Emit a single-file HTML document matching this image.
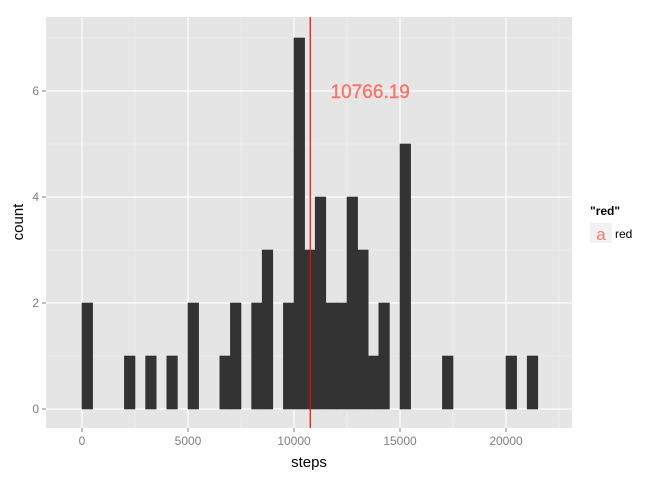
<!DOCTYPE html>
<html><head><meta charset="utf-8"><style>
body{margin:0;background:#fff;font-family:"Liberation Sans",Arial,sans-serif}
</style></head><body>
<svg id="chart" width="672" height="480" xmlns="http://www.w3.org/2000/svg" font-family="Liberation Sans, Arial, sans-serif">
<rect x="46" y="17" width="526" height="411" fill="#E5E5E5"/>
<g id="grid"></g>
<g id="bars"></g>
<g id="axes"></g>
<text x="309" y="467" text-anchor="middle" font-size="15" fill="#000">steps</text>
<text x="0" y="0" transform="translate(23,222) rotate(-90)" text-anchor="middle" font-size="15" fill="#000">count</text>
<g>
<text x="590" y="215" font-size="12" font-weight="bold">"red"</text>
<rect x="590" y="223" width="22" height="20" fill="#F2F2F2"/>
<text x="601" y="240" text-anchor="middle" font-size="17" fill="#F8766D">a</text>
<text x="615" y="238" font-size="12">red</text>
</g>
</svg>
<script>
const binStarts=[0,2000,3000,4000,5000,6500,7000,8000,8500,9500,10000,10500,11000,11500,12000,12500,13000,13500,14000,15000,17000,20000,21000];
const counts=[2,1,1,1,2,1,2,2,3,2,7,3,4,2,2,4,3,1,2,5,1,1,1];
const binWidth=500;
const meanValue=10766.19;
const xTicks=[0,5000,10000,15000,20000];
const yTicks=[0,2,4,6];
const ns="http://www.w3.org/2000/svg";
const X=v=>82+v*(424/20000);
const Y=v=>409-v*53;
function mk(tag,attrs,parent){const e=document.createElementNS(ns,tag);for(const k in attrs)e.setAttribute(k,attrs[k]);document.getElementById(parent).appendChild(e);return e;}
for(let v=-2500;v<=22500;v+=2500){const x=X(v);if(x<46||x>572)continue;const major=v%5000===0;
const g=mk('line',{x1:x,x2:x,y1:17,y2:428,stroke:major?'#fff':'#F2F2F2','stroke-width':major?1.2:0.6},'grid');

}
for(let v=-1;v<=7;v+=1){const y=Y(v);if(y<17||y>428)continue;const major=v%2===0;
const g=mk('line',{x1:46,x2:572,y1:y,y2:y,stroke:major?'#fff':'#F2F2F2','stroke-width':major?1.2:0.6},'grid');

}
binStarts.forEach((s,i)=>{const x0=X(s),x1=X(s+binWidth);
const r=mk('rect',{x:x0,y:Y(counts[i]),width:x1-x0,height:Y(0)-Y(counts[i]),fill:'#333333',stroke:'#333333','stroke-width':0.6},'bars');

});
const ml=mk('line',{x1:X(meanValue),x2:X(meanValue),y1:17,y2:428,stroke:'#FF0000','stroke-width':1.2},'bars');


const mt=mk('text',{x:X(meanValue)+60,y:Y(6)+7,'text-anchor':'middle','font-size':19,fill:'#F8766D',stroke:'#F8766D','stroke-width':0.4},'bars');
mt.textContent=meanValue.toFixed(2);


xTicks.forEach(v=>{const x=X(v);
const t=mk('line',{x1:x,x2:x,y1:428,y2:432,stroke:'#7F7F7F'},'axes');


const l=mk('text',{x:x,y:445,'text-anchor':'middle','font-size':12,fill:'#7F7F7F'},'axes');
l.textContent=v;

});
yTicks.forEach(v=>{const y=Y(v);
const t=mk('line',{x1:42,x2:46,y1:y,y2:y,stroke:'#7F7F7F'},'axes');


const l=mk('text',{x:39,y:y+4,'text-anchor':'end','font-size':12,fill:'#7F7F7F'},'axes');
l.textContent=v;

});
</script>
</body></html>
